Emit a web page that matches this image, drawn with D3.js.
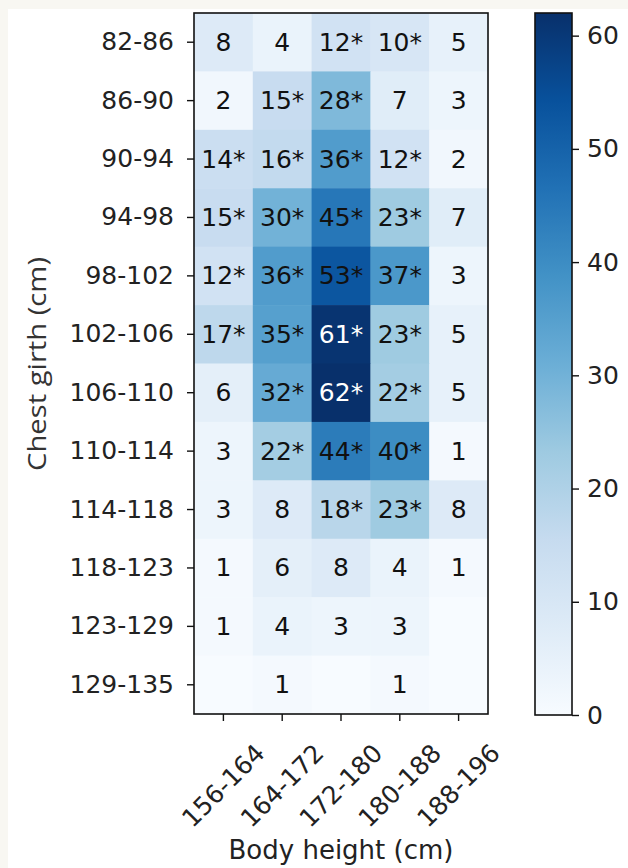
<!DOCTYPE html>
<html>
<head>
<meta charset="utf-8">
<script src="https://cdn.jsdelivr.net/npm/d3@7"></script>
<style>
  body { margin: 0; background: #f8f7f2; }
  svg { display: block; }
  text { font-family: "DejaVu Sans", sans-serif; fill: #222; }
</style>
</head>
<body>
<svg id="chart" width="628" height="868"></svg>
<script>
// body height classes (columns) and chest girth classes (rows)
var heights = ["156-164", "164-172", "172-180", "180-188", "188-196"];
var girths = ["82-86", "86-90", "90-94", "94-98", "98-102", "102-106",
              "106-110", "110-114", "114-118", "118-123", "123-129", "129-135"];

// counts, one row per girth class
var counts = [
  [8, 4, 12, 10, 5],
  [2, 15, 28, 7, 3],
  [14, 16, 36, 12, 2],
  [15, 30, 45, 23, 7],
  [12, 36, 53, 37, 3],
  [17, 35, 61, 23, 5],
  [6, 32, 62, 22, 5],
  [3, 22, 44, 40, 1],
  [3, 8, 18, 23, 8],
  [1, 6, 8, 4, 1],
  [1, 4, 3, 3, 0],
  [0, 1, 0, 1, 0]
];

// cells marked with an asterisk
var starred = [
  [0, 0, 1, 1, 0],
  [0, 1, 1, 0, 0],
  [1, 1, 1, 1, 0],
  [1, 1, 1, 1, 0],
  [1, 1, 1, 1, 0],
  [1, 1, 1, 1, 0],
  [0, 1, 1, 1, 0],
  [0, 1, 1, 1, 0],
  [0, 0, 1, 1, 0],
  [0, 0, 0, 0, 0],
  [0, 0, 0, 0, 0],
  [0, 0, 0, 0, 0]
];

var colorTicks = [0, 10, 20, 30, 40, 50, 60];
var blues = ["#f7fbff", "#deebf7", "#c6dbef", "#9ecae1", "#6baed6",
             "#4292c6", "#2171b5", "#08519c", "#08306b"];

drawHeatmap();

function drawHeatmap(){
    var svg = d3.select("#chart");
    var vmax = d3.max(counts, function(r){ return d3.max(r); });

    // white canvas, the off-white band stays on top and left
    svg.append("rect").attr("x", 8).attr("y", 9)
        .attr("width", 620).attr("height", 859).attr("fill", "#ffffff");

    var x = d3.scaleBand().domain(heights).range([194, 488]);
    var y = d3.scaleBand().domain(girths).range([13, 714]);

    var color = d3.scaleLinear()
        .domain(blues.map(function(d, i){ return i * vmax / (blues.length - 1); }))
        .range(blues);

    var cells = [];
    counts.forEach(function(row, i){
        row.forEach(function(v, j){
            cells.push({g: girths[i], h: heights[j], v: v, s: starred[i][j]});
        });
    });

    svg.selectAll("rect.cell")
        .data(cells)
        .enter()
        .append("rect").attr("class", "cell")
        .attr("x", function(d){ return x(d.h); })
        .attr("y", function(d){ return y(d.g); })
        .attr("width", x.bandwidth() + 0.5)
        .attr("height", y.bandwidth() + 0.5)
        .attr("fill", function(d){ return color(d.v); });

    svg.selectAll("text.ann")
        .data(cells.filter(function(d){ return d.v > 0; }))
        .enter()
        .append("text").attr("class", "ann")
        .attr("x", function(d){ return x(d.h) + x.bandwidth() / 2; })
        .attr("y", function(d){ return y(d.g) + y.bandwidth() / 2; })
        .attr("text-anchor", "middle")
        .attr("dominant-baseline", "central")
        .style("font-size", "25px")
        .style("fill", function(d){ return d.v > 56 ? "#ffffff" : "#111111"; })
        .text(function(d){ return d.v + (d.s ? "*" : ""); });

    // frame
    svg.append("rect")
        .attr("x", 194).attr("y", 13).attr("width", 294).attr("height", 701)
        .attr("fill", "none").attr("stroke", "#111").attr("stroke-width", 1.6);

    // y axis
    var yAxis = svg.append("g").attr("transform", "translate(194,0)")
        .call(d3.axisLeft(y).tickSize(7).tickPadding(13));
    yAxis.select(".domain").remove();
    yAxis.selectAll("line").attr("stroke", "#111").attr("stroke-width", 1.4);
    yAxis.selectAll("text").style("font-size", "25px").attr("fill", "#222")
        .style("font-family", "DejaVu Sans");

    // x axis, rotated labels centred under the ticks
    var xAxis = svg.append("g").attr("transform", "translate(0,714)")
        .call(d3.axisBottom(x).tickSize(7).tickPadding(0));
    xAxis.select(".domain").remove();
    xAxis.selectAll("line").attr("stroke", "#111").attr("stroke-width", 1.4);
    xAxis.selectAll("text")
        .style("font-size", "25px").attr("fill", "#222")
        .style("font-family", "DejaVu Sans")
        .attr("text-anchor", "middle")
        .attr("dy", null)
        .attr("dominant-baseline", "central")
        .each(function(){
            var w = this.getComputedTextLength();
            var boxH = (w + 22) * Math.SQRT1_2;
            d3.select(this).attr("y", null)
                .attr("transform", "translate(0," + (27 + boxH / 2) + ") rotate(-45)");
        });

    svg.append("text")
        .attr("x", 341).attr("y", 859)
        .attr("text-anchor", "middle")
        .style("font-size", "26px")
        .text("Body height (cm)");

    svg.append("text")
        .attr("transform", "translate(46,364) rotate(-90)")
        .attr("text-anchor", "middle")
        .attr("textLength", 214)
        .attr("lengthAdjust", "spacingAndGlyphs")
        .style("font-family", "'Open Sans', sans-serif")
        .style("font-size", "25px")
        .style("fill", "#333")
        .text("Chest girth (cm)");

    // colour bar
    var defs = svg.append("defs");
    var grad = defs.append("linearGradient").attr("id", "cbar")
        .attr("x1", 0).attr("y1", 1).attr("x2", 0).attr("y2", 0);
    grad.selectAll("stop")
        .data(blues)
        .enter()
        .append("stop")
        .attr("offset", function(d, i){ return i / (blues.length - 1); })
        .attr("stop-color", function(d){ return d; });

    var cb = d3.scaleLinear().domain([0, vmax]).range([715, 13]);
    svg.append("rect")
        .attr("x", 535).attr("y", 13).attr("width", 37).attr("height", 702)
        .attr("fill", "url(#cbar)")
        .attr("stroke", "#111").attr("stroke-width", 1.6);

    var cAxis = svg.append("g").attr("transform", "translate(572,0)")
        .call(d3.axisRight(cb).tickValues(colorTicks).tickSize(7).tickPadding(8));
    cAxis.select(".domain").remove();
    cAxis.selectAll("line").attr("stroke", "#111").attr("stroke-width", 1.4);
    cAxis.selectAll("text").style("font-size", "25px").attr("fill", "#222")
        .style("font-family", "DejaVu Sans");
}
</script>
</body>
</html>
